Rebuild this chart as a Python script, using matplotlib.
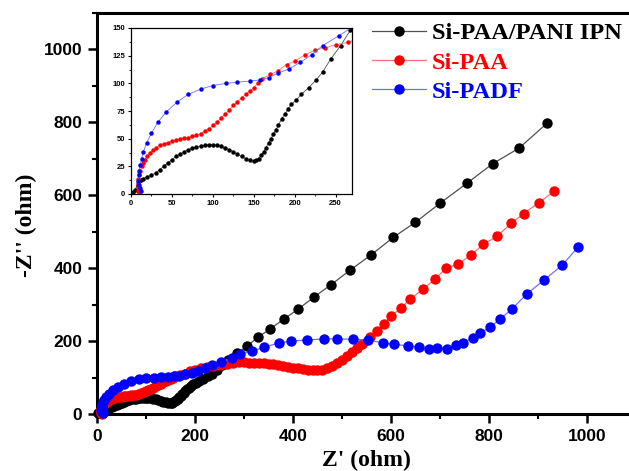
import matplotlib
matplotlib.use("Agg")
import matplotlib.pyplot as plt
from matplotlib.ticker import MultipleLocator

# ---- data ----
labels = ["Si-PAA/PANI IPN", "Si-PAA", "Si-PADF"]

ipn_x = [3,5,8,10,12,15,20,25,30,35,40,45,50,55,60,65,70,75,80,85,90,95,100,105,110,
         115,120,125,130,135,140,145,150,153,156,159,162,165,168,171,174,177,180,184,188,
         192,196,202,208,217,226,234,244,256,268,286,306,328,353,381,410,443,478,517,559,
         605,650,700,755,808,861,918]
ipn_y = [2,4,8,12,13,14,15.5,17,19,22,25,28,31,34,36,38,40,41.5,42.5,43.5,44,44.5,44.5,44,43,
         41.5,40,38,36,34,32,30.5,30,30.5,32,35,38,42,46,50,54,58,62,68,72,
         77,81,85,90,96,103,110,122,134,148,167,186,210,233,260,287,321,355,395,436,
         485,526,578,633,687,729,797]

paa_x = [10,9,8.5,8.5,9,10,11,13,15,17,20,23,27,31,35,40,45,50,55,60,65,70,75,80,85,90,95,
         100,105,110,115,120,125,130,135,140,145,150,155,160,170,179,190,200,213,225,237,251,
         265,278,290,300,310,320,330,340,350,360,370,380,390,400,410,420,430,440,450,460,470,
         480,490,500,510,520,530,541,557,572,586,601,621,639,665,690,712,737,763,788,816,845,
         871,902,933]
paa_y = [0,3,6,10,14,18,21,25,28,31,34,37,40,42,44,45.5,46.5,47.5,48.5,49.5,50.5,51,52,53,54.5,57,59,
         62,65,69,72,76,80,83,87,90,93,96,100,104,108,111,117,120,126,130,132,135,
         137,141,142,142,141,141,140,139,138,136,134,132,130,127,125,123,122,121,121,122,125,
         131,139,148,158,169,181,193,211,229,248,269,292,315,342,370,400,411,436,465,487,523,
         550,580,611]

padf_x = [12,11,10,9,9.5,10,11,13,15,19,25,33,43,56,70,86,100,116,130,145,157,168,179,193,207,
          221,234,254,275,292,317,341,371,396,429,463,490,523,553,584,606,635,657,678,694,714,
          733,747,767,782,802,822,847,877,912,949,982]
padf_y = [3,5,8,12,17,21,26,32,38,46,55,65,74,83,90,95,98,100,101,102,103,105,109,113,119,
          126,134,143,153,164,173,183,195,200,203,206,206,205,203,195,191,187,184,178,180,178,
          189,196,208,222,238,260,288,329,367,408,458]

series = [(ipn_x, ipn_y), (paa_x, paa_y), (padf_x, padf_y)]
marker_colors = ["#000000", "#ff0000", "#0000ff"]
line_colors = ["#505050", "#ff7070", "#7070ff"]

serif = "Liberation Serif"
sans = "Liberation Sans"

W, H = 629, 471
fig = plt.figure(figsize=(W / 100, H / 100), dpi=100)

# main axes
ax = fig.add_axes([97 / W, 1 - 414 / H, (632 - 97) / W, (414 - 13) / H])
handles = []
for (xs, ys), mc, lc, lab in zip(series, marker_colors, line_colors, labels):
    h, = ax.plot(xs, ys, "-", color=lc, lw=0.9, marker="o", ms=7.5,
                 mfc=mc, mec=mc, mew=0, label=lab, clip_on=False, zorder=3)
    handles.append(h)

ax.set_xlim(0, (632 - 97) / 0.49)
ax.set_ylim(0, 1100)
ax.xaxis.set_major_locator(MultipleLocator(200))
ax.xaxis.set_minor_locator(MultipleLocator(100))
ax.yaxis.set_major_locator(MultipleLocator(200))
ax.yaxis.set_minor_locator(MultipleLocator(100))
for s in ax.spines.values():
    s.set_linewidth(2.2)
ax.spines["right"].set_visible(False)
ax.tick_params(which="major", direction="out", length=6.5, width=1.8, pad=4,
               top=False, right=False)
ax.tick_params(which="minor", direction="out", length=3.8, width=1.5,
               top=False, right=False)
for t in ax.get_xticklabels() + ax.get_yticklabels():
    t.set_fontfamily(sans)
    t.set_fontweight("bold")
    t.set_fontsize(12.5)

fig.text(366 / W, 1 - 460 / H, "Z' (ohm)", ha="center", va="center",
         fontfamily=serif, fontweight="bold", fontsize=17)
fig.text(26 / W, 1 - 225 / H, "-Z'' (ohm)", ha="center", va="center",
         rotation=90, fontfamily=serif, fontweight="bold", fontsize=17)

leg = ax.legend(handles=handles, loc="upper left",
                bbox_to_anchor=(372 / W, 1 - 22 / H), bbox_transform=fig.transFigure,
                frameon=False, borderpad=0, borderaxespad=0,
                handlelength=2.2, handletextpad=0.25, labelspacing=0.3,
                prop={"family": serif, "weight": "bold", "size": 17.6},
                labelcolor=marker_colors)

# inset
axi = fig.add_axes([131 / W, 1 - 194 / H, 221 / W, 166 / H])
axi.set_facecolor("white")
for (xs, ys), mc, lc in zip(series, marker_colors, line_colors):
    axi.plot(xs, ys, "-", color=lc, lw=0.6, marker="o", ms=3.2,
             mfc=mc, mec=mc, mew=0)
axi.set_xlim(0, 270)
axi.set_ylim(0, 150)
axi.xaxis.set_major_locator(MultipleLocator(50))
axi.xaxis.set_minor_locator(MultipleLocator(25))
axi.yaxis.set_major_locator(MultipleLocator(25))
axi.yaxis.set_minor_locator(MultipleLocator(12.5))
for s in axi.spines.values():
    s.set_linewidth(0.9)
axi.tick_params(which="major", direction="out", length=2.5, width=0.8, pad=1.5)
axi.tick_params(which="minor", direction="out", length=1.5, width=0.6)
for t in axi.get_xticklabels() + axi.get_yticklabels():
    t.set_fontfamily(sans)
    t.set_fontweight("bold")
    t.set_fontsize(5.5)

fig.savefig("out.png", dpi=100)
